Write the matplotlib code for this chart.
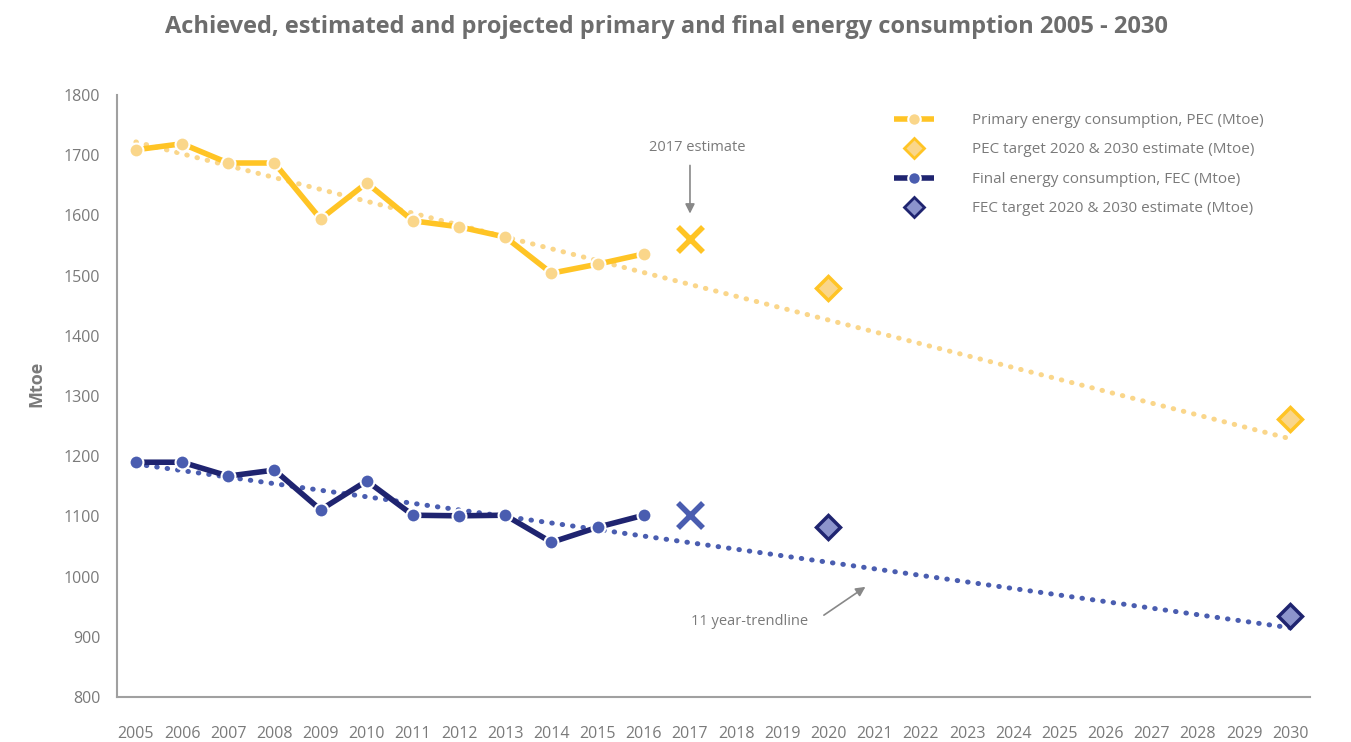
"""Achieved, estimated and projected primary and final energy consumption 2005 - 2030."""

import matplotlib

matplotlib.use("Agg")
import matplotlib.pyplot as plt
from matplotlib.lines import Line2D

plt.rcParams["font.family"] = ["Open Sans", "DejaVu Sans"]

years = [2005, 2006, 2007, 2008, 2009, 2010, 2011, 2012, 2013, 2014, 2015, 2016]
pec = [1709, 1719, 1687, 1687, 1594, 1654, 1591, 1581, 1564, 1504, 1519, 1536]
fec = [1190, 1190, 1167, 1177, 1111, 1159, 1102, 1101, 1102, 1057, 1082, 1102]

estimate_year = 2017
pec_estimate = 1561
fec_estimate = 1102

target_years = [2020, 2030]
pec_target = [1479, 1262]
fec_target = [1082, 935]

trend_years = [2005, 2030]
pec_trend = [1722, 1229]
fec_trend = [1187, 915]

tick_years = list(range(2005, 2031))

GOLD = "#FFC425"
GOLD_LIGHT = "#FAD68A"
NAVY = "#1F2470"
BLUE = "#4A5DB0"
BLUE_LIGHT = "#8C94CC"
GREY = "#7a7a7a"

fig = plt.figure(figsize=(13.51, 7.42), dpi=100)
ax = fig.add_axes([0.0866, 0.0606, 0.8831, 0.8114])

dot = dict(linestyle=(0, (0.1, 2.0)), linewidth=3.6, dash_capstyle="round")
ax.plot(trend_years, pec_trend, color=GOLD_LIGHT, **dot, zorder=2)
ax.plot(trend_years, fec_trend, color=BLUE, **dot, zorder=2)

ax.plot(years, pec, color=GOLD, linewidth=4, marker="o", markersize=10,
        markerfacecolor=GOLD_LIGHT, markeredgecolor="white", markeredgewidth=1.5, zorder=3)
ax.plot(years, fec, color=NAVY, linewidth=4, marker="o", markersize=10,
        markerfacecolor=BLUE, markeredgecolor="white", markeredgewidth=1.5, zorder=3)

ax.plot([estimate_year], [pec_estimate], linestyle="none", marker="x", markersize=18,
        markeredgewidth=4, color=GOLD, zorder=4)
ax.plot([estimate_year], [fec_estimate], linestyle="none", marker="x", markersize=18,
        markeredgewidth=4, color=BLUE, zorder=4)

ax.plot(target_years, pec_target, linestyle="none", marker="D", markersize=12,
        markerfacecolor=GOLD_LIGHT, markeredgecolor=GOLD, markeredgewidth=2.5, zorder=4)
ax.plot(target_years, fec_target, linestyle="none", marker="D", markersize=12,
        markerfacecolor=BLUE_LIGHT, markeredgecolor=NAVY, markeredgewidth=2.5, zorder=4)

arrow = dict(arrowstyle="-|>", color="#888888", lw=1.2, mutation_scale=14, shrinkA=0, shrinkB=0)
ax.text(2017.15, 1713, "2017 estimate", ha="center", va="center", fontsize=10.5, color=GREY)
ax.annotate("", xy=(2017, 1603), xytext=(2017, 1683), arrowprops=arrow)
ax.text(2018.3, 925, "11 year-trendline", ha="center", va="center", fontsize=10.5, color=GREY)
ax.annotate("", xy=(2020.8, 983), xytext=(2019.9, 936), arrowprops=arrow)

ax.set_xlim(2004.59, 2030.43)
ax.set_ylim(800, 1800)
ax.set_xticks(tick_years)
ax.set_xticklabels([str(y) for y in tick_years])
ax.set_yticks(range(800, 1801, 100))
ax.tick_params(length=0, labelsize=11.5, labelcolor=GREY)
ax.tick_params(axis="x", pad=21)
ax.tick_params(axis="y", pad=12)
for side in ("top", "right"):
    ax.spines[side].set_visible(False)
for side in ("left", "bottom"):
    ax.spines[side].set_color("#a0a0a0")
    ax.spines[side].set_linewidth(1.5)
ax.set_ylabel("Mtoe", fontsize=13, fontweight="bold", color=GREY)
ax.yaxis.set_label_coords(-0.06, 0.52)

fig.suptitle("Achieved, estimated and projected primary and final energy consumption 2005 - 2030",
             x=0.493, y=0.98, fontsize=17, fontweight="bold", color="#6d6d6d")

handles = [
    Line2D([], [], color=GOLD, linewidth=4, linestyle=(0, (2.8, 1.6)), marker="o", markersize=9,
           markerfacecolor=GOLD_LIGHT, markeredgecolor="white", markeredgewidth=1.5),
    Line2D([], [], linestyle="none", marker="D", markersize=10, markerfacecolor=GOLD_LIGHT,
           markeredgecolor=GOLD, markeredgewidth=2),
    Line2D([], [], color=NAVY, linewidth=4, linestyle=(0, (2.8, 1.6)), marker="o", markersize=9,
           markerfacecolor=BLUE, markeredgecolor="white", markeredgewidth=1.5),
    Line2D([], [], linestyle="none", marker="D", markersize=10, markerfacecolor=BLUE_LIGHT,
           markeredgecolor=NAVY, markeredgewidth=2),
]
labels = [
    "Primary energy consumption, PEC (Mtoe)",
    "PEC target 2020 & 2030 estimate (Mtoe)",
    "Final energy consumption, FEC (Mtoe)",
    "FEC target 2020 & 2030 estimate (Mtoe)",
]
leg = ax.legend(handles, labels, loc="upper left", bbox_to_anchor=(0.64, 0.993), frameon=False,
                fontsize=11, handlelength=2.6, handletextpad=2.5, labelspacing=0.95,
                numpoints=1)
for text in leg.get_texts():
    text.set_color(GREY)

fig.savefig("out.png", dpi=100)
